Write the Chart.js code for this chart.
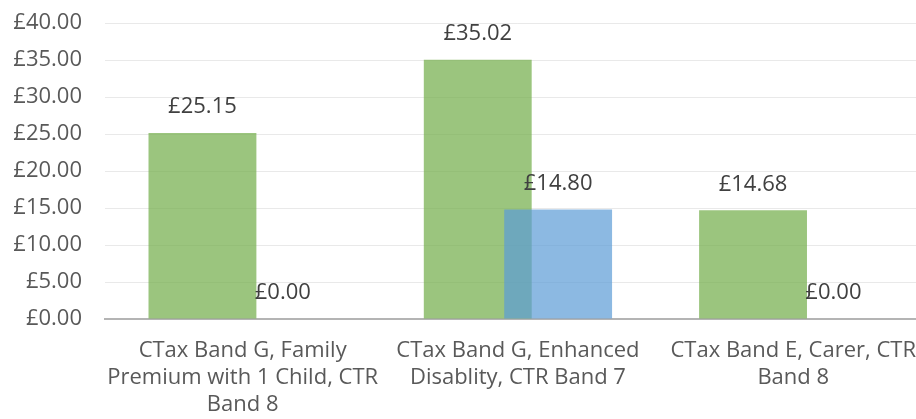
<!DOCTYPE html>
<html>
<head>
<meta charset="utf-8">
<script src="https://cdn.jsdelivr.net/npm/chart.js@4/dist/chart.umd.min.js"></script>
<style>
  html, body { margin: 0; padding: 0; background: #fff; overflow: hidden; }
  #wrap { width: 934px; height: 419px; }
</style>
</head>
<body>
<div id="wrap"><canvas id="chart" width="934" height="419"></canvas></div>
<script>
'use strict';

const categories = [
    ['CTax Band G, Family', 'Premium with 1 Child, CTR', 'Band 8'],
    ['CTax Band G, Enhanced', 'Disablity, CTR Band 7'],
    ['CTax Band E, Carer, CTR', 'Band 8']
];
const greenValues = [25.15, 35.02, 14.68];
const blueValues = [0, 14.80, 0];
const yTicks = [0, 5, 10, 15, 20, 25, 30, 35, 40];

const fontFamily = '"Open Sans", sans-serif';

function money(v) {
    return '£' + Number(v).toFixed(2);
}

// draw datasets in index order so the blue bars sit on top of the green ones
const drawOrderPlugin = {
    id: 'drawOrder',
    beforeDatasetsDraw(chart) {
        const ctx = chart.ctx;
        const area = chart.chartArea;
        const metas = chart.getSortedVisibleDatasetMetas();
        for (let i = 0; i < metas.length; i++) {
            ctx.save();
            ctx.beginPath();
            ctx.rect(area.left, area.top - 40, area.right - area.left, area.bottom - area.top + 40);
            ctx.clip();
            metas[i].controller.draw();
            ctx.restore();
        }
        return false;
    }
};

const valueLabelPlugin = {
    id: 'valueLabels',
    afterDraw(chart) {
        const ctx = chart.ctx;
        ctx.save();
        ctx.font = '22px ' + fontFamily;
        ctx.fillStyle = '#404040';
        ctx.textAlign = 'center';
        ctx.textBaseline = 'middle';
        chart.data.datasets.forEach((ds, d) => {
            const meta = chart.getDatasetMeta(d);
            meta.data.forEach((bar, i) => {
                ctx.fillText(money(ds.data[i]), bar.x, bar.y - 26);
            });
        });
        ctx.restore();
    }
};

const config = {
    type: 'bar',
    data: {
        labels: categories,
        datasets: [
            {
                label: 'Series 1',
                data: greenValues,
                backgroundColor: 'rgba(112, 173, 71, 0.7)',
                borderWidth: 0,
                categoryPercentage: 0.584,
                barPercentage: 1.342
            },
            {
                label: 'Series 2',
                data: blueValues,
                backgroundColor: 'rgba(91, 155, 213, 0.7)',
                borderWidth: 0,
                categoryPercentage: 0.584,
                barPercentage: 1.342
            }
        ]
    },
    options: {
        responsive: false,
        animation: false,
        layout: { padding: 0 },
        plugins: {
            legend: { display: false },
            tooltip: { enabled: false }
        },
        scales: {
            x: {
                grid: { display: false, drawTicks: false },
                border: { display: true, color: '#b4b4b4', width: 2 },
                ticks: {
                    color: '#595959',
                    font: { family: fontFamily, size: 22, lineHeight: 1.23 },
                    maxRotation: 0,
                    autoSkip: false,
                    padding: 18
                },
                afterFit(scale) { scale.height = 100; }
            },
            y: {
                min: 0,
                max: 40,
                afterBuildTicks(scale) { scale.ticks = yTicks.map(v => ({ value: v })); },
                grid: { color: '#e9e9e9', lineWidth: 1, drawTicks: false },
                border: { display: false },
                ticks: {
                    color: '#595959',
                    font: { family: fontFamily, size: 22 },
                    padding: 23,
                    callback: v => money(v)
                },
                afterFit(scale) {
                    scale.width = 105;
                    scale.paddingTop = 23;
                    scale.paddingBottom = 0;
                }
            }
        }
    },
    plugins: [drawOrderPlugin, valueLabelPlugin]
};

new Chart(document.getElementById('chart'), config);
</script>
</body>
</html>
